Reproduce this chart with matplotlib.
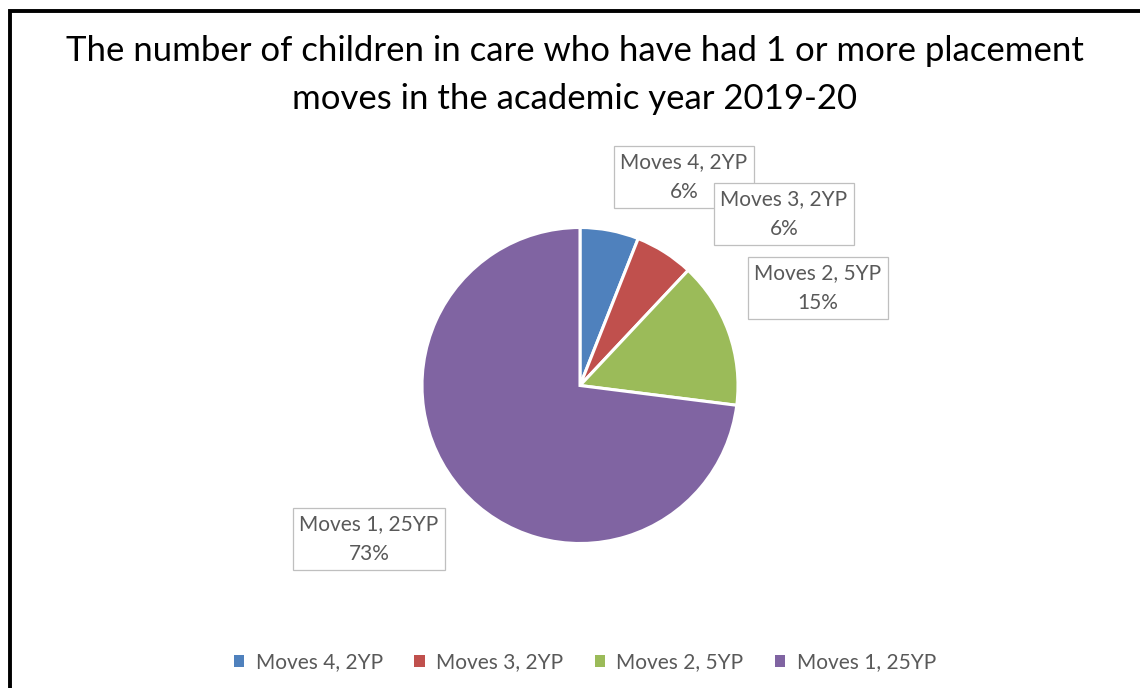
import matplotlib.pyplot as plt
from matplotlib.patches import Rectangle, Patch

plt.rcParams["font.family"] = ["Lato", "DejaVu Sans"]

# placement moves, share of young people
categories = ["Moves 4, 2YP", "Moves 3, 2YP", "Moves 2, 5YP", "Moves 1, 25YP"]
shares = [6, 6, 15, 73]
colors = ["#4F81BD", "#C0504D", "#9BBB59", "#8064A2"]

W, H = 1140, 688
fig = plt.figure(figsize=(W / 100, H / 100), dpi=100)
ax = fig.add_axes([0, 0, 1, 1])

wedges, _ = ax.pie(shares, colors=colors, startangle=90, counterclock=False,
                   center=(580, H - 385.5), radius=158,
                   wedgeprops=dict(edgecolor="white", linewidth=2.2))

# pie() resets the limits, so fix the pixel-sized canvas afterwards
ax.set_xlim(0, W)
ax.set_ylim(0, H)
ax.set_aspect("equal")
ax.axis("off")

# chart frame (runs off the right and bottom edges)
ax.add_patch(Rectangle((9.5, -20), W + 40, H - 10.5 + 20, fill=False,
                       edgecolor="black", linewidth=2.8, clip_on=False))

ax.text(575, H - 75, "The number of children in care who have had 1 or more placement\n"
        "moves in the academic year 2019-20", ha="center", va="center",
        fontsize=25, color="black", linespacing=1.62)

# data label boxes next to each slice
label_pos = [(684, H - 177), (784, H - 214), (818, H - 288), (369, H - 539)]
for (x, y), cat, s in zip(label_pos, categories, shares):
    ax.text(x, y, f"{cat}\n{s}%", ha="center", va="center", fontsize=15,
            color="#595959", linespacing=1.6,
            bbox=dict(boxstyle="square,pad=0.32", facecolor="white",
                      edgecolor="#BFBFBF", linewidth=0.9))

handles = [Patch(facecolor=c, edgecolor="none") for c in colors]
leg = ax.legend(handles, categories, loc="center", bbox_to_anchor=(585 / W, 1 - 662 / H),
                ncol=4, frameon=False, fontsize=15, handlelength=0.5, handleheight=0.5,
                handletextpad=0.55, columnspacing=1.5)
for t in leg.get_texts():
    t.set_color("#595959")

fig.savefig("out.png", dpi=100)
